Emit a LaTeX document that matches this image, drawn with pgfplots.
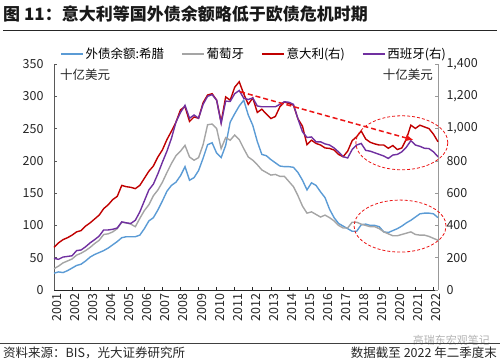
\documentclass[border=0pt]{standalone}
\usepackage{pgfplots}
\pgfplotsset{compat=1.18}
\usepackage{pgfplotstable}
\usetikzlibrary{arrows.meta}
\usepackage{fontspec}
\setmainfont{Noto Sans CJK SC}
\definecolor{cGR}{RGB}{91,155,213}
\definecolor{cPT}{RGB}{165,165,165}
\definecolor{cIT}{RGB}{192,0,0}
\definecolor{cES}{RGB}{112,48,160}
\definecolor{cArr}{RGB}{235,20,20}

\pgfplotstableread{
t gr pt it es
2001.00 26 33 264 196
2001.25 28 37 292 190
2001.50 27 42 312 204
2001.75 30 45 324 208
2002.00 34 48 340 212
2002.25 38 54 360 244
2002.50 40 57 368 248
2002.75 45 61 396 268
2003.00 51 66 416 292
2003.25 55 72 440 312
2003.50 58 77 464 334
2003.75 61 86 504 372
2004.00 65 87 528 372
2004.25 70 90 560 376
2004.50 75 95 580 384
2004.75 81 105 648 422
2005.00 82.5 104 640 416
2005.25 82.5 102 636 412
2005.50 82.5 98 628 432
2005.75 85 111 648 484
2006.00 95 123 692 552
2006.25 107 132 736 620
2006.50 112 146 768 656
2006.75 124 155 824 720
2007.00 138 167 868 792
2007.25 153 182 932 860
2007.50 162 196 984 940
2007.75 167 208 1040 1040
2008.00 177 215 1116 1100
2008.25 191 224 1136 1144
2008.50 170 206 1044 1064
2008.75 174 201 1072 1084
2009.00 185 205 1064 1064
2009.25 204 225 1160 1150
2009.50 225 256 1208 1200
2009.75 228 257 1216 1210
2010.00 212 250 1176 1176
2010.25 205 219 1040 1032
2010.50 224 236 1196 1170
2010.75 260 232 1176 1168
2011.00 273 240 1256 1216
2011.25 285 233 1290 1236
2011.50 294 219 1215 1188
2011.75 271 206 1150 1180
2012.00 255 201 1190 1190
2012.25 230 194 1100 1140
2012.50 210 186 1120 1135
2012.75 208 182 1090 1135
2013.00 202 178 1062 1135
2013.25 197 179 1075 1135
2013.50 192 176 1135 1150
2013.75 191 176 1165 1166
2014.00 191 168 1155 1163
2014.25 190 160 1145 1150
2014.50 182 146 1060 1060
2014.75 170 130 1015 980
2015.00 155 119 900 945
2015.25 166 121 928 948
2015.50 162 117 908 918
2015.75 152 113 898 918
2016.00 143 116 880 905
2016.25 125 112 877 898
2016.50 112 107 867 880
2016.75 103 100 840 855
2017.00 99 96 826 826
2017.25 95 96 860 818
2017.50 91 105 925 870
2017.75 91 105 950 898
2018.00 101 102 985 908
2018.25 102 100 935 865
2018.50 100 98 915 860
2018.75 100 98 905 850
2019.00 98 95 898 840
2019.25 90 90 898 830
2019.50 89 87 878 815
2019.75 92 84 895 836
2020.00 95 84 870 840
2020.25 99 86 880 856
2020.50 104 88 935 885
2020.75 108 90 1021 925
2021.00 113 86 1001 898
2021.25 118 85 1021 890
2021.50 119 85 1010 878
2021.75 119 83 1000 876
2022.00 118 80 965 856
2022.25 112 77 918 825
}\data

\begin{document}
\begin{tikzpicture}
\path[use as bounding box] (0pt,0pt) rectangle (500pt,362pt);
\node[anchor=west, font=\fontsize{17}{20}\selectfont\bfseries, inner sep=0pt, text=black!90] at (3pt,348pt) {图 11：意大利等国外债余额略低于欧债危机时期};
\draw[line width=0.9pt, black!85] (3pt,332pt) -- (497pt,332pt);

\begin{axis}[
  at={(54pt,72pt)}, anchor=south west, width=384pt, height=226pt, scale only axis,
  xmin=2001, xmax=2022.25, ymin=0, ymax=350,
  axis x line*=bottom, axis y line*=left, axis line style={-},
  x axis line style={black!85, line width=0.8pt},
  y axis line style={black!65, line width=0.8pt},
  xtick={2001,...,2022}, ytick={0,50,...,350},
  tick align=inside, major tick length=3pt,
  xtick style={black!85, line width=0.6pt},
  ytick style={black!65, line width=0.6pt},
  /pgf/number format/assume math mode=true,
  tick label style={font=\fontsize{12.5}{14}\selectfont, text=black!85},
  x tick label style={rotate=90, anchor=east, yshift=-3pt, /pgf/number format/1000 sep={}},
  y tick label style={anchor=east, xshift=-7pt},
  legend style={at={(0.521,1)}, anchor=center, yshift=10pt, draw=none, fill=none,
    legend columns=4, font=\fontsize{12.5}{14}\selectfont, inner sep=0pt,
    /tikz/every even column/.append style={column sep=15pt}},
  legend cell align=left,
  legend image code/.code={\draw[#1] (0pt,0pt) -- (22pt,0pt);},
  clip=false,
]
\addplot[cGR, line width=1.4pt] table[x=t, y=gr] {\data};
\addlegendentry{外债余额:希腊}
\addplot[cPT, line width=1.4pt] table[x=t, y=pt] {\data};
\addlegendentry{葡萄牙}
\addlegendimage{cIT, line width=1.4pt}
\addlegendentry{意大利(右)}
\addlegendimage{cES, line width=1.4pt}
\addlegendentry{西班牙(右)}
\coordinate (e1) at (axis cs:2020.25,228);
\coordinate (e2) at (axis cs:2020.15,99);
\end{axis}

\begin{axis}[
  at={(54pt,72pt)}, anchor=south west, width=384pt, height=226pt, scale only axis,
  xmin=2001, xmax=2022.25, ymin=0, ymax=1400,
  axis y line*=right, axis x line=none, axis line style={-},
  y axis line style={black!40, line width=0.8pt},
  ytick={0,200,...,1400},
  tick align=inside, major tick length=3pt,
  ytick style={black!40, line width=0.6pt},
  /pgf/number format/assume math mode=true,
  tick label style={font=\fontsize{12.5}{14}\selectfont, text=black!85},
  y tick label style={anchor=west, xshift=5pt, /pgf/number format/1000 sep={,}},
  clip=false,
]
\addplot[cIT, line width=1.4pt] table[x=t, y=it] {\data};
\addplot[cES, line width=1.4pt] table[x=t, y=es] {\data};
\draw[cArr, line width=1.5pt, dash pattern=on 5pt off 3pt, -{Latex[length=8pt,width=7pt]}] (axis cs:2011.3,1228) -- (axis cs:2020.9,929);
\end{axis}

\draw[cArr, line width=0.8pt, dash pattern=on 3pt off 2pt] (e1) ellipse [x radius=46pt, y radius=27pt];
\draw[cArr, line width=0.8pt, dash pattern=on 3pt off 2pt] (e2) ellipse [x radius=46pt, y radius=26pt];

\node[anchor=west, font=\fontsize{12.5}{14}\selectfont, inner sep=0pt, text=black!85] at (60pt,287pt) {十亿美元};
\node[anchor=east, font=\fontsize{12.5}{14}\selectfont, inner sep=0pt, text=black!85] at (433pt,287pt) {十亿美元};

\node[anchor=east, font=\fontsize{11}{13}\selectfont, inner sep=0pt, text=black!30] at (490pt,22pt) {高瑞东宏观笔记};
\draw[line width=0.9pt, black!75] (0pt,19pt) -- (500pt,19pt);
\node[anchor=west, font=\fontsize{12.5}{14}\selectfont, inner sep=0pt, text=black!85] at (3pt,9pt) {资料来源：BIS，光大证券研究所};
\node[anchor=east, font=\fontsize{12.5}{14}\selectfont, inner sep=0pt, text=black!85] at (497pt,9pt) {数据截至 2022 年二季度末};
\end{tikzpicture}
\end{document}
